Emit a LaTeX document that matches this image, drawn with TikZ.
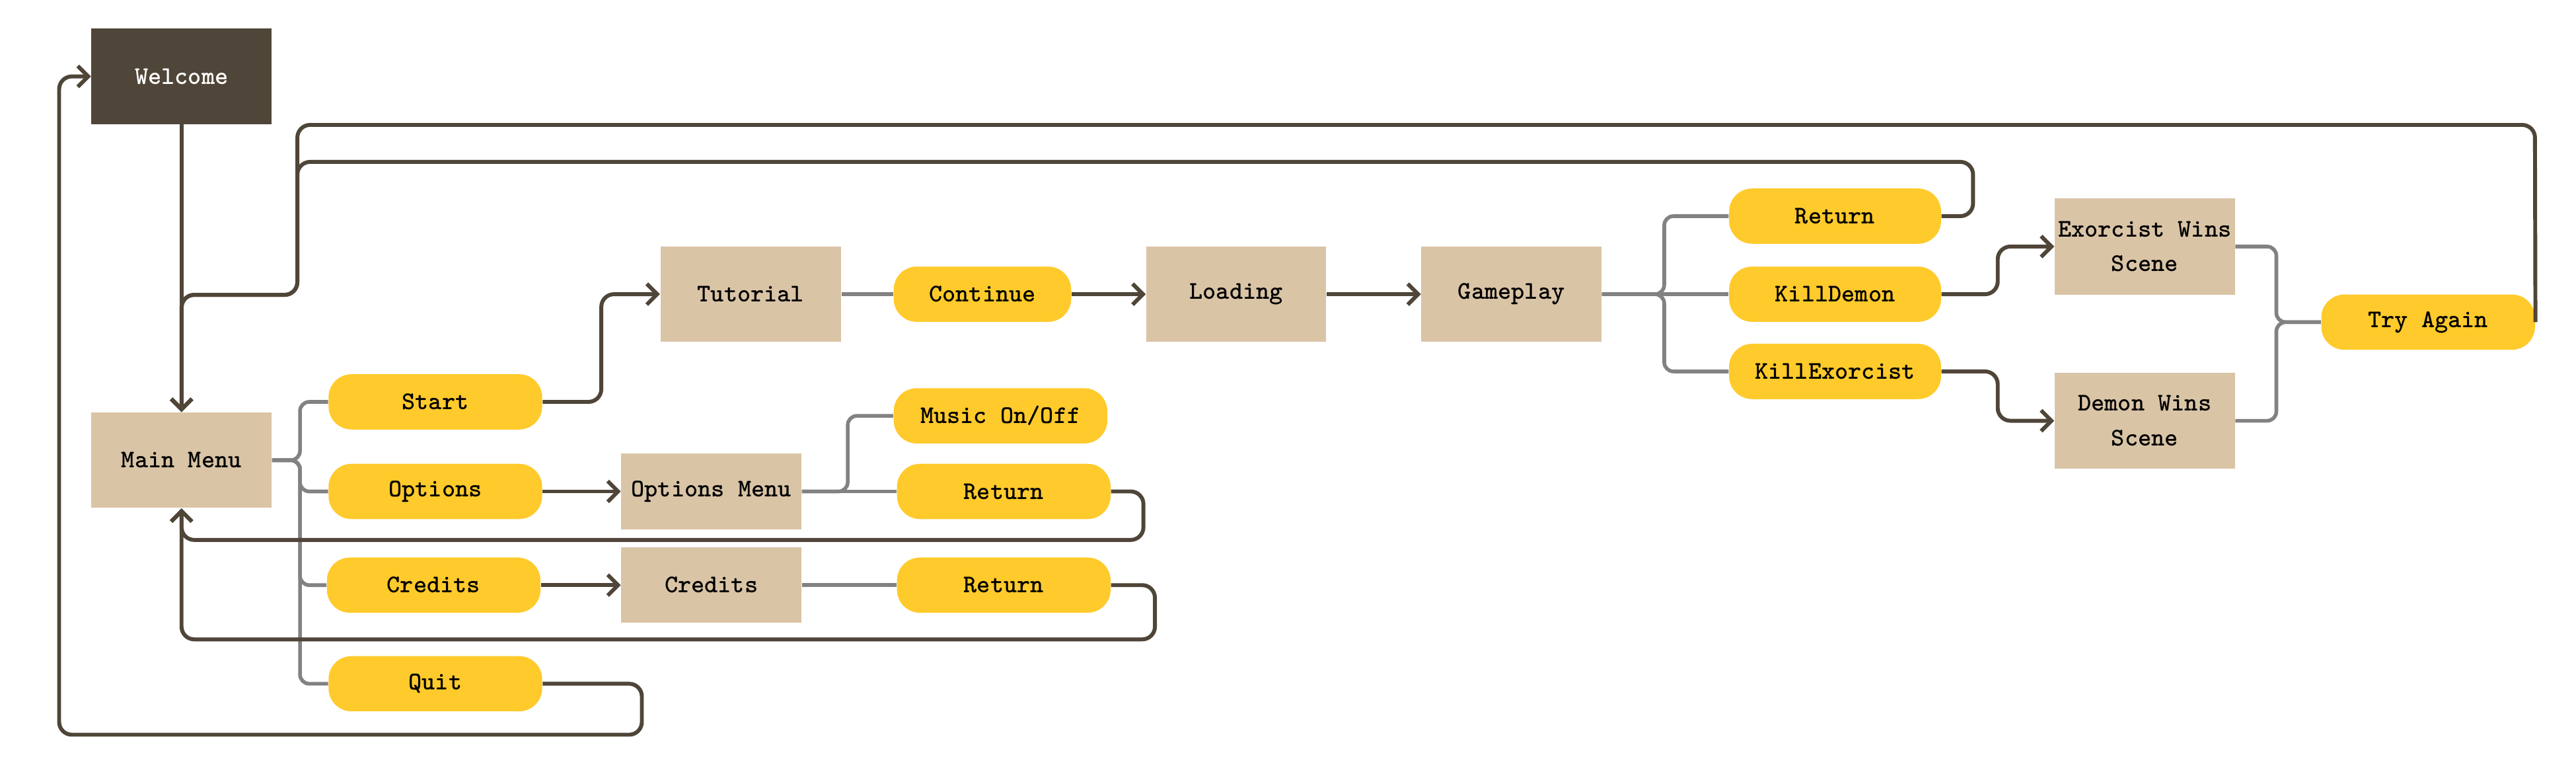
\documentclass[tikz,border=0pt]{standalone}
\usepackage{fontspec}
\newfontfamily\tw{lmmonolt10-bold}[Extension=.otf]
\usetikzlibrary{arrows.meta}
\definecolor{brownd}{HTML}{4F4538}
\definecolor{tanc}{HTML}{D9C4A6}
\definecolor{ylw}{HTML}{FFCA2B}
\definecolor{lgray}{HTML}{828282}
\begin{document}
\begin{tikzpicture}[x=0.025cm,y=-0.025cm,
  txt/.style={font=\tw\fontsize{11}{15}\selectfont, align=center, inner sep=0pt},
  box/.style={txt, fill=tanc, minimum width=2.74cm, minimum height=1.45cm},
  sbox/.style={box, minimum height=1.15cm},
  pill/.style={txt, fill=ylw, rounded corners=0.35cm, minimum width=3.25cm, minimum height=0.84cm},
  link/.style={draw=brownd, line width=1.7pt, rounded corners=5.5pt},
  arr/.style={link, -{Straight Barb[length=4.5pt,width=9pt]}},
  gline/.style={draw=lgray, line width=1.6pt, rounded corners=4pt}
]
\useasboundingbox (0,0) rectangle (1568,472);

% nodes
\node[box, fill=brownd, text=white] (welcome) at (110.5,46.5) {Welcome};
\node[box] (mainmenu) at (110.5,280) {Main Menu};
\node[pill] (start) at (265,244.5) {Start};
\node[pill] (options) at (265,299) {Options};
\node[pill] (credits) at (264,356) {Credits};
\node[pill] (quit) at (265,416) {Quit};
\node[box, minimum width=2.75cm] (tutorial) at (457,179) {Tutorial};
\node[pill, minimum width=2.7cm] (continue) at (598,179) {Continue};
\node[box] (loading) at (752.5,179) {Loading};
\node[box] (gameplay) at (920,179) {Gameplay};
\node[sbox] (optmenu) at (433,299) {Options Menu};
\node[sbox] (creditsbox) at (433,356) {Credits};
\node[pill] (music) at (609,253) {Music On/Off};
\node[pill] (ret1) at (611,299) {Return};
\node[pill] (ret2) at (611,356) {Return};
\node[pill, minimum width=3.225cm] (ret3) at (1117,131.5) {Return};
\node[pill, minimum width=3.225cm] (killdemon) at (1117,179) {KillDemon};
\node[pill, minimum width=3.225cm] (killex) at (1117,226) {KillExorcist};
\node[box, minimum height=1.46cm] (exwins) at (1305.5,150) {Exorcist Wins\\Scene};
\node[box, minimum height=1.46cm] (dmwins) at (1305.5,256) {Demon Wins\\Scene};
\node[pill] (tryagain) at (1478,196) {Try Again};

% gray branches
\draw[gline] (mainmenu.east) -- (182.6,280) |- (start.west);
\draw[gline] (mainmenu.east) -- (182.6,280) |- (options.west);
\draw[gline] (mainmenu.east) -- (182.6,280) |- (credits.west);
\draw[gline] (mainmenu.east) -- (182.6,280) |- (quit.west);
\draw[gline] (tutorial.east) -- (continue.west);
\draw[gline] (optmenu.east) -- (ret1.west);
\draw[gline] (optmenu.east) -- (516,299) |- (music.west);
\draw[gline] (creditsbox.east) -- (ret2.west);
\draw[gline] (gameplay.east) -- (1013,179) |- (ret3.west);
\draw[gline] (gameplay.east) -- (killdemon.west);
\draw[gline] (gameplay.east) -- (1013,179) |- (killex.west);
\draw[gline] (exwins.east) -- (1385.6,150) |- (tryagain.west);
\draw[gline] (dmwins.east) -- (1385.6,256) |- (tryagain.west);

% brown connectors
\draw[arr] (welcome) -- (mainmenu);
\draw[arr] (quit.east) -- (390.7,416) -- (390.7,447) -- (36,447) |- (welcome.west);
\draw[arr] (start.east) -- (366,244.5) |- (tutorial.west);
\draw[arr] (options) -- (optmenu);
\draw[arr] (credits) -- (creditsbox);
\draw[arr] (continue) -- (loading);
\draw[arr] (loading) -- (gameplay);
\draw[arr] (ret1.east) -- (696,299) -- (696,328.5) -| (mainmenu.south);
\draw[arr] (ret2.east) -- (703,356) -- (703,389) -| (mainmenu.south);
\draw[arr] (ret3.east) -- (1201,131.5) -- (1201,98.5) -- (181,98.5) -- (181,179.4) -| (mainmenu.north);
\draw[arr] (tryagain.east) -- (1543,76) -- (181,76) -- (181,179.4) -| (mainmenu.north);
\draw[arr] (killdemon.east) -- (1216,179) |- (exwins.west);
\draw[arr] (killex.east) -- (1216,226) |- (dmwins.west);
\end{tikzpicture}
\end{document}
